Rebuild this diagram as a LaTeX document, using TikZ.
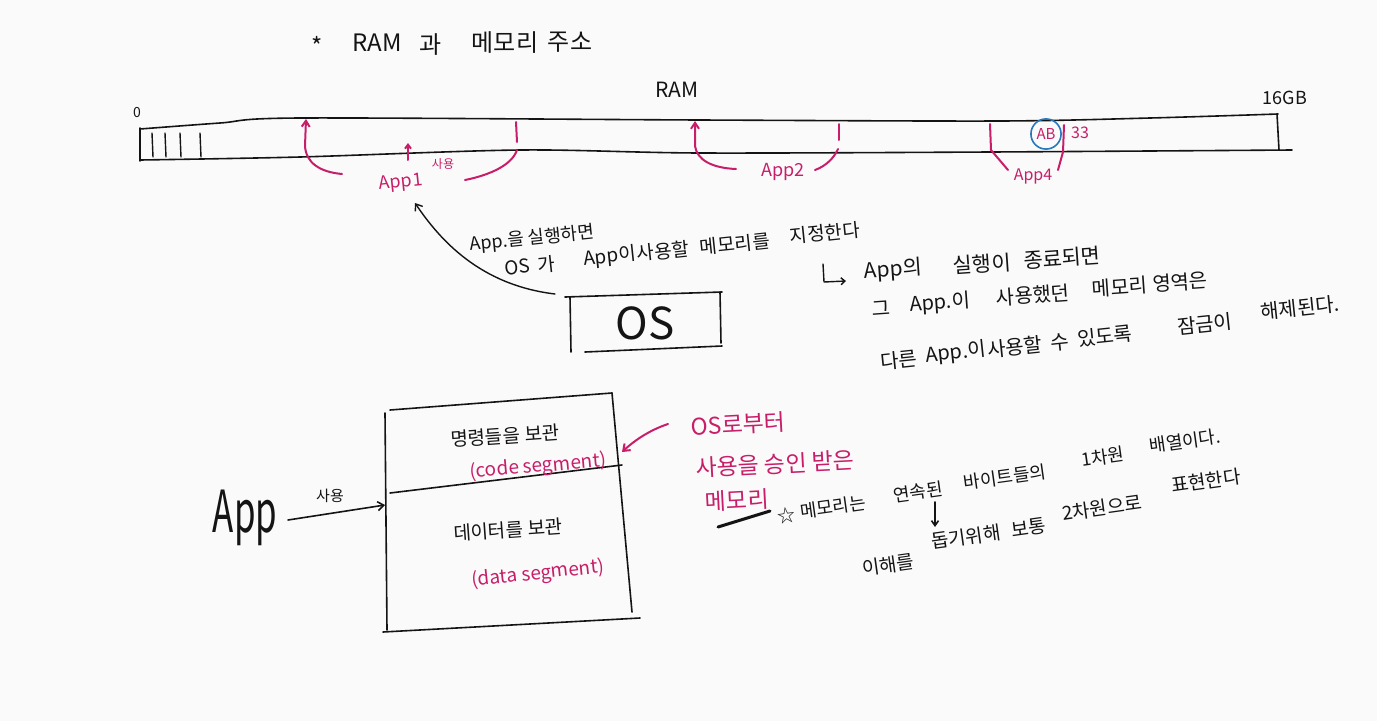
\documentclass[tikz,border=0pt]{standalone}
\usepackage{fontspec}
\newfontfamily\kr{Noto Sans CJK KR}
\usetikzlibrary{arrows.meta}
\definecolor{pinkc}{RGB}{200,30,105}
\definecolor{bluec}{RGB}{40,120,190}
\definecolor{bg}{RGB}{250,250,250}
\definecolor{inkc}{RGB}{20,20,20}
\begin{document}
\begin{tikzpicture}[x=1pt,y=-1pt,
  ink/.style={draw=inkc,line width=1.6pt,line cap=round,line join=round},
  pinkink/.style={draw=pinkc,line width=2pt,line cap=round,line join=round},
  txt/.style={font=\kr\fontsize{#1}{#1}\selectfont,inner sep=0pt,text=inkc},
  ptxt/.style={font=\kr\fontsize{#1}{#1}\selectfont,inner sep=0pt,text=pinkc},
  barb/.style={-{Straight Barb[length=6pt,width=9pt]}}]
\fill[bg] (0,0) rectangle (1377,721);
\useasboundingbox (0,0) rectangle (1377,721);
% title
\node[txt=24] (ti1) at (317,46) {*};
\node[txt=24] (ti2) at (377,43) {RAM};
\node[txt=24] (ti3) at (431,45) {과};
\node[txt=24] (ti4) at (505,43) {메모리};
\node[txt=24] (ti5) at (570,42) {주소};
\node[txt=21] (ram) at (677,90) {RAM};
\node[txt=14] (zero) at (137,113) {0};
\node[txt=18] (gb) at (1285,98) {16GB};
% RAM bar
\draw[ink] plot[smooth] coordinates {(140,129) (220,123) (300,118) (700,120) (1000,121) (1150,118) (1278,114)};
\draw[ink] plot[smooth] coordinates {(140,160) (300,157) (520,150) (700,153) (990,152) (1292,150)};
\draw[ink] (140,128) -- (140,161);
\draw[ink] (1277,114) -- (1279,150);
\foreach \x in {152,165,180,200} \draw[ink,line width=1.4pt] (\x,133) -- (\x+1,157);
% App1
\draw[pinkink,{Straight Barb[length=6pt,width=8pt]}-] (306,119) -- (305,146) .. controls (306,163) and (320,172) .. (342,174);
\draw[pinkink] (516,122) -- (517,142);
\draw[pinkink] (517,150) .. controls (512,165) and (490,175) .. (465,180);
\coordinate (ua) at (408,160);
\coordinate (ub) at (408,143);
\draw[pinkink,-{Straight Barb[length=4pt,width=6pt]}] (ua) -- (ub);
\node[ptxt=18,rotate=6] (app1) at (401,183) {App1};
\node[ptxt=12] (use1) at (443,164) {사용};
% App2
\draw[pinkink,{Straight Barb[length=6pt,width=8pt]}-] (695,121) -- (695,146) .. controls (697,160) and (712,168) .. (736,169);
\draw[pinkink] (839,124) -- (839,140);
\draw[pinkink] (838,149) .. controls (834,158) and (826,166) .. (815,170);
\node[ptxt=18] (app2) at (783,172) {App2};
% App4
\draw[pinkink] (990,124) -- (991,150) -- (1008,170);
\draw[pinkink] (1064,125) -- (1063,152) -- (1058,170);
\node[ptxt=16] (app4) at (1033,176) {App4};
\node[ptxt=15,draw=bluec,line width=1.6pt,circle,inner sep=3pt] (ab) at (1046,134) {AB};
\node[ptxt=16] (n33) at (1080,133) {33};
% OS arrow and text
\coordinate (osarr) at (555,294);
\coordinate (app1tip) at (415,203);
\draw[ink,line width=1.4pt,barb] (osarr) .. controls (480,285) and (440,240) .. (app1tip);
\node[txt=18,rotate=6] (t1) at (532,239) {App.을 실행하면};
\node[txt=19,rotate=6] (t2a) at (517,267) {OS};
\node[txt=19,rotate=6] (t2b) at (546,264) {가};
\node[txt=19,rotate=6] (t2c) at (610,257) {App이};
\node[txt=19,rotate=6] (t2d) at (663,251) {사용할};
\node[txt=19,rotate=6] (t2e) at (735,244) {메모리를};
\node[txt=19,rotate=6] (t2f) at (825,233) {지정한다};
% OS box
\draw[ink] (565,297) -- (722,292);
\draw[ink] (570,297) -- (571,352);
\draw[ink] (720,292) -- (721,343);
\draw[ink] (585,352) -- (722,346);
\node[txt=44] (os) at (645,323) {OS};
% right block
\draw[ink,line width=1.4pt,-{Straight Barb[length=4pt,width=7pt]}] (823,264) -- (824,282) -- (846,281);
\node[txt=21,rotate=4] (r1a) at (893,270) {App의};
\node[txt=21,rotate=4] (r1b) at (982,264) {실행이};
\node[txt=21,rotate=4] (r1c) at (1062,258) {종료되면};
\node[txt=20,rotate=4] (r2a) at (881,309) {그};
\node[txt=20,rotate=4] (r2b) at (940,303) {App.이};
\node[txt=20,rotate=4] (r2c) at (1033,295) {사용했던};
\node[txt=20,rotate=4] (r2d) at (1120,287) {메모리};
\node[txt=20,rotate=4] (r2e) at (1180,282) {영역은};
\node[txt=20,rotate=6] (r3a) at (899,360) {다른};
\node[txt=20,rotate=6] (r3b) at (956,353) {App.이};
\node[txt=20,rotate=6] (r3c) at (1015,347) {사용할};
\node[txt=20,rotate=6] (r3d) at (1060,342) {수};
\node[txt=20,rotate=6] (r3e) at (1105,336) {있도록};
\node[txt=20,rotate=6] (r3f) at (1205,324) {잠금이};
\node[txt=20,rotate=6] (r3g) at (1300,308) {해제된다.};
% memory box
\draw[ink] (390,410) -- (612,393);
\draw[ink] (385,413) -- (387,630);
\draw[ink] (612,393) -- (632,612);
\draw[ink] (383,632) -- (640,618);
\draw[ink] (390,493) -- (622,465);
\node[txt=19,rotate=4] (cmd) at (505,436) {명령들을 보관};
\node[ptxt=19,rotate=5] (code) at (538,467) {(code segment)};
\node[txt=19,rotate=4] (dat) at (508,530) {데이터를 보관};
\node[ptxt=19,rotate=6] (data) at (538,574) {(data segment)};
% pink annotation
\coordinate (pa) at (668,424);
\coordinate (pb) at (622,452);
\draw[pinkink,-{Straight Barb[length=6pt,width=9pt]}] (pa) .. controls (650,430) and (635,440) .. (pb);
\node[ptxt=23,rotate=3] (p1) at (738,424) {OS로부터};
\node[ptxt=23,rotate=3] (p2) at (775,464) {사용을 승인 받은};
\node[ptxt=23,rotate=3] (p3) at (737,500) {메모리};
\draw[inkc,line width=3pt,line cap=round] (718,527) -- (770,511);
% App
\node[txt=58] (app) at (245,518) {\scalebox{0.6}[1]{App}};
\coordinate (appa) at (288,520);
\coordinate (appb) at (385,505);
\draw[ink,barb] (appa) -- (appb);
\node[txt=15] (use2) at (330,496) {사용};
% star notes
\node[txt=18,rotate=8] (s1a) at (786,516) {☆};
\node[txt=18,rotate=8] (s1b) at (833,507) {메모리는};
\node[txt=18,rotate=8] (s1c) at (918,492) {연속된};
\node[txt=18,rotate=8] (s1d) at (1005,477) {바이트들의};
\node[txt=18,rotate=8] (s1e) at (1103,457) {1차원};
\node[txt=18,rotate=8] (s1f) at (1185,441) {배열이다.};
\coordinate (da) at (935,502);
\coordinate (db) at (935,527);
\draw[ink,-{Straight Barb[length=5pt,width=7pt]}] (da) -- (db);
\node[txt=19,rotate=8] (s2a) at (888,565) {이해를};
\node[txt=19,rotate=8] (s2b) at (966,537) {돕기위해};
\node[txt=19,rotate=8] (s2c) at (1029,528) {보통};
\node[txt=19,rotate=8] (s2d) at (1102,508) {2차원으로};
\node[txt=19,rotate=8] (s2e) at (1206,481) {표현한다};
\end{tikzpicture}
\end{document}
